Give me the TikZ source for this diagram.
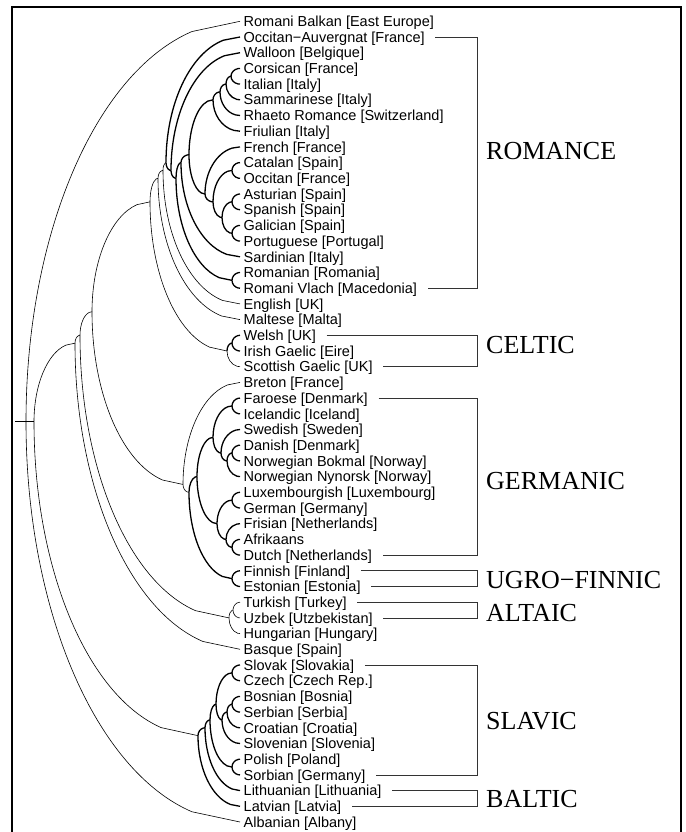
\documentclass[tikz,border=0pt]{standalone}
\usepackage{fontspec}
\setmainfont{Liberation Sans}
\newfontfamily\grpfont{Liberation Serif}
\usetikzlibrary{calc}

\tikzset{
  leaf/.style={anchor=west, inner xsep=3.5pt, inner ysep=0pt,
    font=\fontsize{14.5}{15}\selectfont, text height=13.4pt, text depth=3pt},
  group/.style={anchor=west, inner sep=0pt, font=\grpfont\fontsize{26}{26}\selectfont},
  branch/.style={line width=0.6pt, line join=round, to path={
    let \p1=(\tikztostart), \p2=(\tikztotarget),
        \n1={\x2-\x1}, \n2={\y2-\y1} in
    arc[start angle=180, end angle={ifthenelse(\n2>0,103,257)},
        x radius=\n1, y radius={abs(\n2)}] -- (\tikztotarget)}},
  heavy/.style={line width=1.3pt},
  bracket/.style={line width=0.7pt, black!80},
}

\begin{document}
\begin{tikzpicture}[x=1pt,y=1pt]
 \useasboundingbox (0,0) rectangle (685,-832);
 \draw[line width=1.2pt] (12,-845) -- (12,-7) -- (681,-7) -- (681,-845);

 % languages
 \foreach \i/\nm/\t in {1/rba/{Romani Balkan [East Europe]}, 2/oau/{Occitan−Auvergnat [France]},
   3/wal/{Walloon [Belgique]}, 4/cor/{Corsican [France]}, 5/ita/{Italian [Italy]},
   6/sam/{Sammarinese [Italy]}, 7/rha/{Rhaeto Romance [Switzerland]}, 8/fri/{Friulian [Italy]},
   9/fre/{French [France]}, 10/cat/{Catalan [Spain]}, 11/occ/{Occitan [France]},
   12/ast/{Asturian [Spain]}, 13/spa/{Spanish [Spain]}, 14/gal/{Galician [Spain]},
   15/por/{Portuguese [Portugal]}, 16/sar/{Sardinian [Italy]}, 17/rom/{Romanian [Romania]},
   18/rvl/{Romani Vlach [Macedonia]}, 19/eng/{English [UK]}, 20/mal/{Maltese [Malta]},
   21/wel/{Welsh [UK]}, 22/iri/{Irish Gaelic [Eire]}, 23/sco/{Scottish Gaelic [UK]},
   24/bre/{Breton [France]}, 25/far/{Faroese [Denmark]}, 26/ice/{Icelandic [Iceland]},
   27/swe/{Swedish [Sweden]}, 28/dan/{Danish [Denmark]}, 29/nob/{Norwegian Bokmal [Norway]},
   30/non/{Norwegian Nynorsk [Norway]}, 31/lux/{Luxembourgish [Luxembourg]},
   32/ger/{German [Germany]}, 33/frs/{Frisian [Netherlands]}, 34/afr/{Afrikaans},
   35/dut/{Dutch [Netherlands]}, 36/fin/{Finnish [Finland]}, 37/est/{Estonian [Estonia]},
   38/tur/{Turkish [Turkey]}, 39/uzb/{Uzbek [Utzbekistan]}, 40/hun/{Hungarian [Hungary]},
   41/bas/{Basque [Spain]}, 42/slk/{Slovak [Slovakia]}, 43/cze/{Czech [Czech Rep.]},
   44/bos/{Bosnian [Bosnia]}, 45/ser/{Serbian [Serbia]}, 46/cro/{Croatian [Croatia]},
   47/slv/{Slovenian [Slovenia]}, 48/pol/{Polish [Poland]}, 49/sor/{Sorbian [Germany]},
   50/lit/{Lithuanian [Lithuania]}, 51/lat/{Latvian [Latvia]}, 52/alb/{Albanian [Albany]}}
   \node[leaf] (\nm) at (240,{-21.3-(\i-1)*15.7}) {\t};

 % inner nodes: name / height / first leaf / last leaf
 \foreach \nm/\h/\a/\b in {r0/26/1/52, n1/34/2/51, na/75/2/41, nb/80/2/40, nc/92/2/37,
   nd/150/2/23, nm/158/2/20, nl/163/2/19, nr/166/2/18, nw/171/3/18, nq/176/4/18,
   np/181/4/16, nv/189/4/15, it/213/4/8, i3/220/4/7, i2/226/4/6, i1/231/4/5, fi/205/9/15,
   f5/213/10/15, f1/232/10/11, f4/222/12/15, f2/232/12/13, f3/232/14/15, rr/232/17/18,
   ce/227/21/23, c1/232/21/22, ne/183/24/37, gu/189/25/37, ge/197/25/35, g5/213/25/30,
   g1/232/25/26, g4/221/27/30, g3/227/28/30, g2/232/28/29, g9/217/31/35, g6/232/31/32,
   g8/226/33/35, g7/232/34/35, uf/232/36/37, t2/229/38/40, t1/233/38/39, sb/198/42/51,
   s8/205/42/50, s7/210/42/49, s5/216/42/47, s1/232/42/43, s4/222/44/47, s3/227/44/46,
   s2/232/44/45, s6/232/48/49}
   \coordinate (\nm) at (\h,{-21.3-((\a+\b)/2-1)*15.7});

 \coordinate (stub) at ($(r0)+(-11,0)$);
 \draw[line width=0.6pt] (stub) -- (r0) -- (n1);

 \foreach \pa/\ch in {r0/rba.west, r0/alb.west, n1/na, n1/sb, na/nb, na/bas.west, nb/nc,
   nb/t2, nc/nd, nc/ne, nd/nm, nd/ce, nm/nl, nm/mal.west, nl/nr, nl/eng.west, ne/bre.west,
   ne/gu, t2/t1, t2/hun.west, t1/tur.west, t1/uzb.west, ce/sco.west}
   \draw[branch] (\pa) to (\ch);

 \foreach \pa/\ch in {nr/oau.west, nr/nw, nw/wal.west, nw/nq, nq/np, nq/rr, np/nv,
   np/sar.west, nv/it, nv/fi, it/i3, it/fri.west, i3/i2, i3/rha.west, i2/i1, i2/sam.west,
   i1/cor.west, i1/ita.west, fi/fre.west, fi/f5, f5/f1, f5/f4, f1/cat.west, f1/occ.west,
   f4/f2, f4/f3, f2/ast.west, f2/spa.west, f3/gal.west, f3/por.west, rr/rom.west,
   rr/rvl.west, ce/c1, c1/wel.west, c1/iri.west, gu/ge, gu/uf, ge/g5, ge/g9, g5/g1, g5/g4,
   g1/far.west, g1/ice.west, g4/swe.west, g4/g3, g3/g2, g3/non.west, g2/dan.west,
   g2/nob.west, g9/g6, g9/g8, g6/lux.west, g6/ger.west, g8/frs.west, g8/g7, g7/afr.west,
   g7/dut.west, uf/fin.west, uf/est.west, sb/s8, sb/lat.west, s8/s7, s8/lit.west, s7/s5,
   s7/s6, s5/s1, s5/s4, s1/slk.west, s1/cze.west, s4/s3, s4/slv.west, s3/s2, s3/cro.west,
   s2/bos.west, s2/ser.west, s6/pol.west, s6/sor.west}
   \draw[branch, heavy] (\pa) to (\ch);

 % families
 \coordinate (brk) at (477,0);
 \foreach \ta/\tb in {oau/rvl, wel/sco, far/dut, fin/est, tur/uzb, slk/sor, lit/lat}
   \draw[bracket] ([xshift=7pt]\ta.east) -- (\ta.east -| brk) -- (\tb.east -| brk)
     -- ([xshift=7pt]\tb.east);

 \node[group] (romance) at (486,-151) {ROMANCE};
 \node[group] (celtic) at (486,-345.5) {CELTIC};
 \node[group] (germanic) at (486,-481) {GERMANIC};
 \node[group] (ugro) at (486,-580) {UGRO−FINNIC};
 \node[group] (altaic) at (486,-613) {ALTAIC};
 \node[group] (slavic) at (486,-721.5) {SLAVIC};
 \node[group] (baltic) at (486,-799.5) {BALTIC};

\end{tikzpicture}
\end{document}
